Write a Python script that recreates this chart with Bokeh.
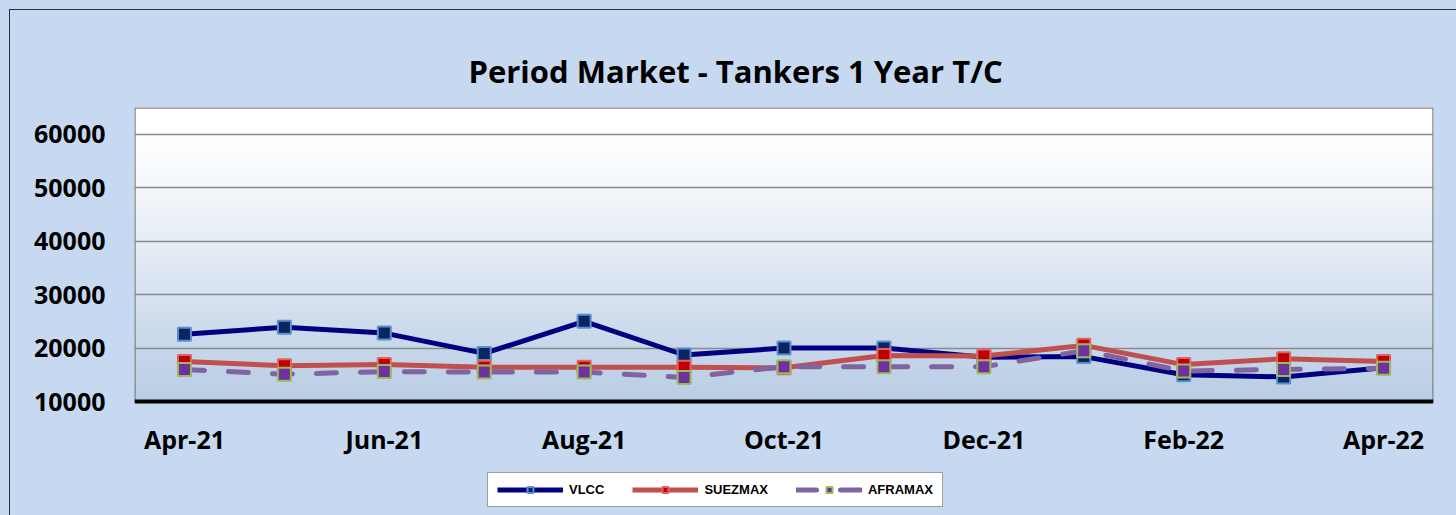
import numpy as np
from bokeh.plotting import figure
from bokeh.models import Range1d, FixedTicker, Legend, LegendItem, Span
from bokeh.core.properties import value
from bokeh.embed import file_html
from bokeh.resources import INLINE

# ---- data ----
months = ["Apr-21", "May-21", "Jun-21", "Jul-21", "Aug-21", "Sep-21", "Oct-21",
          "Nov-21", "Dec-21", "Jan-22", "Feb-22", "Mar-22", "Apr-22"]
vlcc = [22600, 23900, 22800, 19000, 25000, 18700, 20000, 20000, 18300, 18400, 15000, 14600, 16300]
suezmax = [17500, 16700, 16900, 16400, 16400, 16400, 16300, 18600, 18500, 20500, 16900, 18000, 17500]
aframax = [16000, 15100, 15600, 15500, 15500, 14500, 16500, 16500, 16500, 19500, 15700, 16000, 16200]
y_ticks = [10000, 20000, 30000, 40000, 50000, 60000]
x_label_idx = [0, 2, 4, 6, 8, 10, 12]
title_text = "Period Market - Tankers 1 Year T/C"

x = list(range(len(months)))
Y0, Y1 = 10000, 65000
PLOT_H, BELOW_H = 294, 114          # pixel heights of plot area and of the strip below it
Y_LOW = Y0 - (Y1 - Y0) * BELOW_H / PLOT_H
LABEL_Y = Y0 - (Y1 - Y0) * 37 / PLOT_H   # baseline of month labels
XL, XR = -0.5, len(months) - 0.5

p = figure(width=1456, height=515, frame_width=1299, frame_height=PLOT_H + BELOW_H,
           output_backend="svg", toolbar_location=None, x_axis_location=None,
           x_range=Range1d(XL, XR), y_range=Range1d(Y_LOW, Y1),
           min_border_left=134, min_border_right=23, min_border_top=107, min_border_bottom=0)
p.border_fill_alpha = 0
p.background_fill_alpha = 0
p.styles = {"background": "linear-gradient(#24303c, #24303c) 9px 9px / 1px 100% no-repeat, "
                          "linear-gradient(#24303c, #24303c) 9px 9px / 100% 1px no-repeat, #c6d9f0"}
p.outline_line_color = None

# title
p.title.text = title_text
p.title.align = "left"
p.title.offset = 334
p.title.vertical_align = "bottom"
p.title.standoff = 32
p.title.text_font = "Open Sans"
p.title.text_font_style = "bold"
p.title.text_font_size = "31px"
p.title.text_color = "black"

# gradient background of plot area (white top -> light blue bottom)
edges = np.linspace(Y0, Y1, 111)
bot, top = edges[:-1], edges[1:]
mid = (bot + top) / 2
t = np.clip((60000 - mid) / 50000, 0, 1) ** 1.1
c0 = np.array([255, 255, 255]); c1 = np.array([184, 204, 228])
cols = ["#%02x%02x%02x" % tuple((c0 + (c1 - c0) * tt).round().astype(int)) for tt in t]
p.quad(left=XL, right=XR, bottom=bot, top=top, fill_color=cols,
       line_color=cols, line_width=1, level="image")
# plot-area border
p.quad(left=XL, right=XR, bottom=Y0, top=Y1, fill_color=None,
       line_color="#868686", line_width=2.5, level="underlay")

# grid
p.xgrid.visible = False
p.ygrid.ticker = FixedTicker(ticks=y_ticks[1:])
p.ygrid.grid_line_color = "#8a8a8a"
p.ygrid.grid_line_width = 1.5

# y axis
font = "Open Sans"
p.yaxis.ticker = FixedTicker(ticks=y_ticks)
p.yaxis.axis_line_color = None
p.yaxis.major_tick_line_color = None
p.yaxis.minor_tick_line_color = None
p.yaxis.major_tick_out = 0
p.yaxis.major_tick_in = 0
p.yaxis.major_label_text_font = font
p.yaxis.major_label_text_font_style = "bold"
p.yaxis.major_label_text_font_size = "25px"
p.yaxis.major_label_text_color = "black"
p.yaxis.major_label_standoff = 29

# category (x) axis: black base line + month labels
p.add_layout(Span(location=Y0, dimension="width", line_color="black", line_width=4))
p.text(x=x_label_idx, y=[LABEL_Y] * len(x_label_idx), text=[months[i] for i in x_label_idx],
       text_align="center", text_baseline="alphabetic", text_font=value(font),
       text_font_style="bold", text_font_size="25px", text_color="black")

# series
r1 = p.line(x, vlcc, line_color="#000080", line_width=5)
r2 = p.line(x, suezmax, line_color="#c0504d", line_width=5)
r3 = p.line(x, aframax, line_color="#8064a2", line_width=5, line_dash="20 24", line_cap="round")
m1 = p.scatter(x, vlcc, marker="square", size=13, fill_color="#0b2560", line_color="#5b8fcf", line_width=2)
m2 = p.scatter(x, suezmax, marker="square", size=13, fill_color="#c00000", line_color="#e06464", line_width=2)
m3 = p.scatter(x, aframax, marker="square", size=13, fill_color="#7030a0", line_color="#9bbb59", line_width=2)

legend = Legend(items=[LegendItem(label="VLCC", renderers=[r1, m1]),
                       LegendItem(label="SUEZMAX", renderers=[r2, m2]),
                       LegendItem(label="AFRAMAX", renderers=[r3, m3])],
                orientation="horizontal", location=(353, 8))
legend.label_text_font = "Liberation Sans"
legend.label_text_font_style = "bold"
legend.label_text_font_size = "13px"
legend.label_text_color = "black"
legend.glyph_width = 66
legend.glyph_height = 15
legend.label_height = 15
legend.label_standoff = 6
legend.spacing = 28
legend.padding = 9
legend.margin = 0
legend.border_line_color = "#404040"
legend.border_line_width = 1
legend.background_fill_color = "white"
legend.background_fill_alpha = 1
p.add_layout(legend, "center")

open("out.html", "w").write(file_html(p, INLINE))
